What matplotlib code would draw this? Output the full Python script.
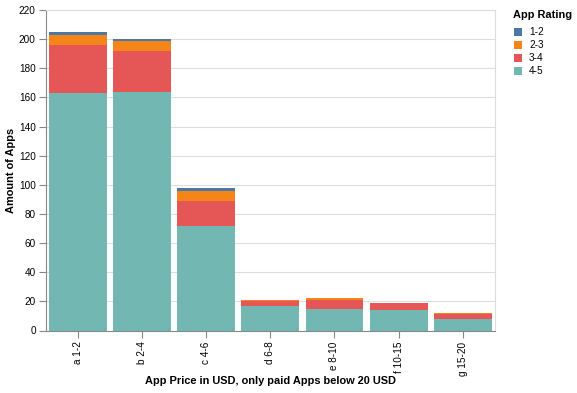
import numpy as np
import matplotlib
matplotlib.use("Agg")
import matplotlib.pyplot as plt
from matplotlib.patches import Rectangle

plt.rcParams['font.family'] = ['Liberation Sans', 'DejaVu Sans']

price_bins = ["a 1-2", "b 2-4", "c 4-6", "d 6-8", "e 8-10", "f 10-15", "g 15-20"]
ratings = ["1-2", "2-3", "3-4", "4-5"]
count_1_2 = [2, 1, 2, 0, 0, 0, 0]
count_2_3 = [7, 7, 7, 1, 1, 0, 1]
count_3_4 = [33, 28, 17, 3, 6, 5, 3]
count_4_5 = [163, 164, 72, 17, 15, 14, 8]
colors = {"1-2": "#4c78a8", "2-3": "#f58518", "3-4": "#e45756", "4-5": "#72b7b2"}

fig = plt.figure(figsize=(5.77, 3.93), dpi=100)
ax = fig.add_axes([45.5 / 577, 62.5 / 393, 449.5 / 577, 320.5 / 393])

x = np.arange(len(price_bins))
stack = [("4-5", count_4_5), ("3-4", count_3_4), ("2-3", count_2_3), ("1-2", count_1_2)]
bottom = np.zeros(len(price_bins))
for name, vals in stack:
    vals = np.array(vals, dtype=float)
    ax.bar(x, vals, width=0.9, bottom=bottom, color=colors[name], linewidth=0, zorder=2)
    bottom += vals

ax.set_xlim(-0.5, len(price_bins) - 0.5)
ax.set_ylim(0, 220)
ax.set_yticks(np.arange(0, 221, 20))
ax.set_xticks(x)
ax.set_xticklabels(price_bins, rotation=90, fontsize=7.2, color="#000000")
ax.tick_params(axis='y', labelsize=7.2, length=5, width=0.8, color="#888888", pad=2)
ax.tick_params(axis='x', length=5, width=0.8, color="#888888", pad=3)
ax.grid(axis='y', color="#dddddd", linewidth=0.8, zorder=0)
ax.set_axisbelow(True)

for side in ["top", "right"]:
    ax.spines[side].set_color("#dddddd")
    ax.spines[side].set_linewidth(0.8)
for side in ["left", "bottom"]:
    ax.spines[side].set_color("#888888")
    ax.spines[side].set_linewidth(0.8)

ax.set_xlabel("App Price in USD, only paid Apps below 20 USD", fontsize=7.9,
              fontweight='bold')
ax.set_ylabel("Amount of Apps", fontsize=7.9, fontweight='bold')
# pin the axis titles where the reference has them (pixel centres 381 and 10)
ax.xaxis.set_label_coords(0.5, (330.5 - 381) / 320.5)
ax.xaxis.label.set_va('center')
ax.yaxis.set_label_coords((11 - 45.5) / 449.5, 0.5)
ax.yaxis.label.set_va('center')

# legend drawn by hand in pixel positions, like the vega-lite one
W, H = 577, 393
fig.text(513 / W, 1 - 15 / H, "App Rating", fontsize=7.9, fontweight='bold',
         va='center', ha='left')
for i, name in enumerate(ratings):
    yc = 32 + 13 * i
    fig.add_artist(Rectangle(((514) / W, 1 - (yc + 4) / H), 8 / W, 8 / H,
                             transform=fig.transFigure, facecolor=colors[name],
                             edgecolor='none'))
    fig.text(529 / W, 1 - yc / H, name, fontsize=7.2, va='center', ha='left')

fig.savefig("out.png", dpi=100)
